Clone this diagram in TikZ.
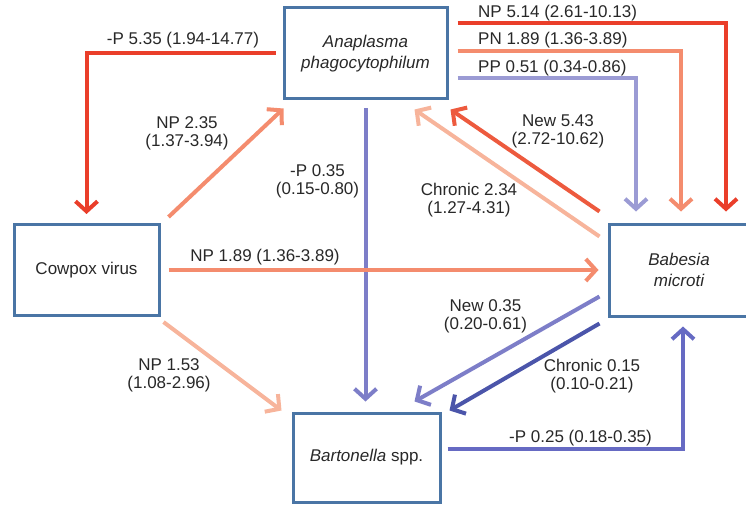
\documentclass[tikz,border=0pt]{standalone}
\usepackage{fontspec}
\setmainfont{Liberation Sans}
\usetikzlibrary{arrows.meta}
\definecolor{boxblue}{RGB}{74,117,165}
\definecolor{hired}{RGB}{234,62,42}
\definecolor{midred}{RGB}{237,90,62}
\definecolor{salmon}{RGB}{244,140,110}
\definecolor{pale}{RGB}{247,180,155}
\definecolor{lav}{RGB}{155,155,212}
\definecolor{midblue}{RGB}{125,126,200}
\definecolor{blueP}{RGB}{102,106,195}
\definecolor{deepblue}{RGB}{75,85,170}
\definecolor{ink}{RGB}{40,40,40}
\tikzset{box/.style={draw=boxblue,line width=3pt,align=center,inner sep=0pt,font=\fontsize{17}{21}\selectfont},
         link/.style={line width=4pt,-{Straight Barb[length=10pt,width=22pt]}},
         lab/.style={align=center,inner sep=0pt,text=ink}
}
\begin{document}
\begin{tikzpicture}[x=1pt,y=-1pt,font=\fontsize{17}{18}\selectfont]
  \useasboundingbox(0,0)rectangle(746,505);
  \node[box,text=ink,font=\fontsize{17}{21}\selectfont\itshape,minimum width=163pt,minimum height=91pt](ana)at(365.5,53.5){Anaplasma\\phagocytophilum};
  \node[box,text=ink,minimum width=145pt,minimum height=91pt](cow)at(86.5,270){Cowpox virus};
  \node[box,text=ink,font=\fontsize{17}{21}\selectfont\itshape,minimum width=140pt,minimum height=92pt](bab)at(679,270){Babesia\\microti};
  \node[box,text=ink,minimum width=147pt,minimum height=89pt](bart)at(366.5,457.5){\textit{Bartonella} spp.};
  % Anaplasma
  \draw[link,hired]([xshift=-7pt]ana.west)-|([yshift=9pt]cow.north);
  \draw[link,midblue,shorten <=8pt,shorten >=10pt](ana.south)--(ana.south|-bart.north);
  \draw[link,hired]([xshift=9pt,yshift=30pt]ana.east)-|([xshift=47pt,yshift=11pt]bab.north);
  \draw[link,salmon]([xshift=9pt,yshift=2.5pt]ana.east)-|([xshift=2pt,yshift=11pt]bab.north);
  \draw[link,lav]([xshift=9pt,yshift=-24.5pt]ana.east)-|([xshift=-43pt,yshift=11pt]bab.north);
  % Cowpox
  \draw[link,salmon]([xshift=8pt,yshift=6pt]cow.north east)--([xshift=1pt,yshift=-8pt]ana.south west);
  \draw[link,salmon]([xshift=8pt]cow.east)--([xshift=-9pt]bab.west);
  \draw[link,pale]([xshift=3pt,yshift=-5pt]cow.south east)--([xshift=-10pt,yshift=1pt]bart.north west);
  % Babesia
  \draw[link,midred]([xshift=-8pt,yshift=11pt]bab.north west)--([xshift=2pt,yshift=-9pt]ana.south east);
  \draw[link,pale]([xshift=-8pt,yshift=-14pt]bab.north west)--([xshift=-34pt,yshift=-9pt]ana.south east);
  \draw[link,midblue]([xshift=-8pt,yshift=21pt]bab.south west)--([xshift=-27pt,yshift=10pt]bart.north east);
  \draw[link,deepblue]([xshift=-8pt,yshift=-6pt]bab.south west)--([xshift=8pt,yshift=1pt]bart.north east);
  % Bartonella
  \draw[link,blueP]([xshift=6pt,yshift=8.5pt]bart.east)-|([xshift=4pt,yshift=-9pt]bab.south);
  % labels
  \node[lab](l1)at(183,40){-P 5.35 (1.94-14.77)};
  \node[lab](l2)at(187,133.5){NP 2.35\\(1.37-3.94)};
  \node[lab](l3)at(317.5,181){-P 0.35\\(0.15-0.80)};
  \node[lab,anchor=west](l4)at(478,13){NP 5.14 (2.61-10.13)};
  \node[lab,anchor=west](l5)at(478,40){PN 1.89 (1.36-3.89)};
  \node[lab,anchor=west](l6)at(478,68){PP 0.51 (0.34-0.86)};
  \node[lab](l7)at(558,131.5){New 5.43\\(2.72-10.62)};
  \node[lab](l8)at(469,200){Chronic 2.34\\(1.27-4.31)};
  \node[lab](l9)at(265,257){NP 1.89 (1.36-3.89)};
  \node[lab](l10)at(169,375){NP 1.53\\(1.08-2.96)};
  \node[lab](l11)at(485.5,316){New 0.35\\(0.20-0.61)};
  \node[lab](l12)at(592,376){Chronic 0.15\\(0.10-0.21)};
  \node[lab](l13)at(580.5,438){-P 0.25 (0.18-0.35)};
\end{tikzpicture}
\end{document}
